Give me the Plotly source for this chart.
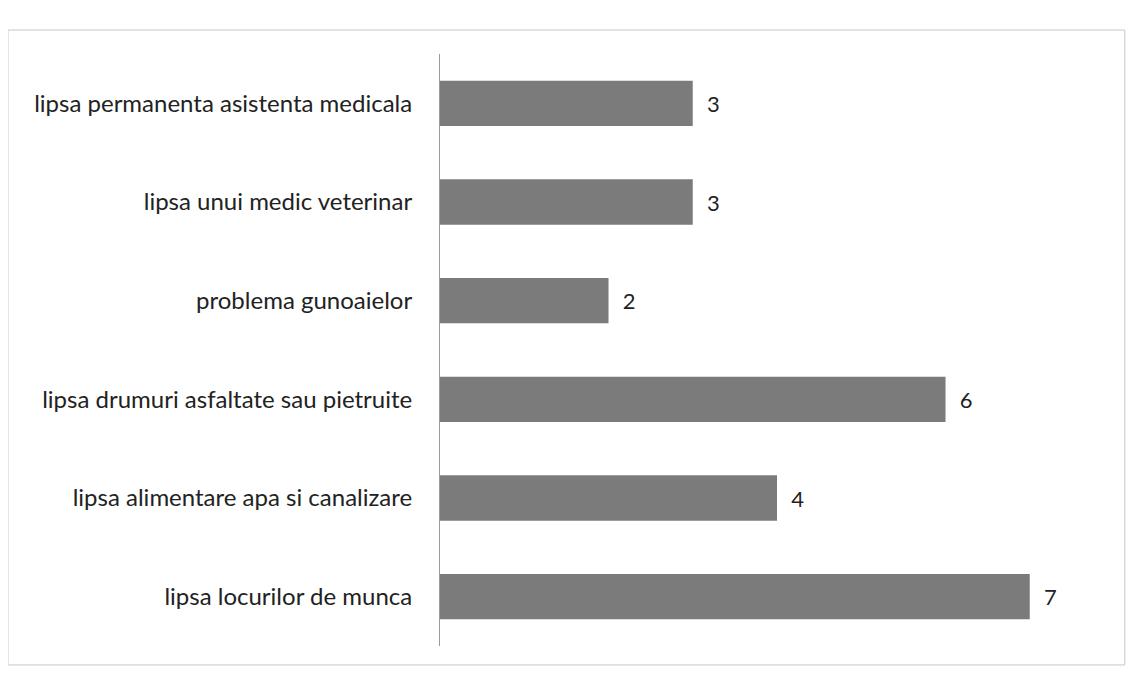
import plotly.graph_objects as go

categories = [
    "lipsa permanenta asistenta medicala",
    "lipsa unui medic veterinar",
    "problema gunoaielor",
    "lipsa drumuri asfaltate sau pietruite",
    "lipsa alimentare apa si canalizare",
    "lipsa locurilor de munca",
]
values = [3, 3, 2, 6, 4, 7]

FONT = "Lato"

fig = go.Figure(
    go.Bar(
        y=categories,
        x=values,
        orientation="h",
        marker=dict(color="#7b7b7b", line=dict(width=0)),
        texttemplate="  %{x}",
        textposition="outside",
        textfont=dict(size=22, color="#222222", family=FONT),
        cliponaxis=False,
    )
)

fig.update_layout(
    width=1134,
    height=677,
    paper_bgcolor="white",
    plot_bgcolor="white",
    margin=dict(l=432, r=28, t=46, b=39),
    bargap=0.54,
    showlegend=False,
    font=dict(family=FONT, size=24, color="#222222"),
    xaxis=dict(range=[0, 8], visible=False, showgrid=False, zeroline=False),
    yaxis=dict(
        autorange="reversed",
        showgrid=False,
        zeroline=False,
        showline=True,
        linecolor="#9a9a9a",
        linewidth=1,
        ticks="",
        ticklabelstandoff=22,
        tickfont=dict(size=24, family=FONT, color="#222222"),
    ),
    shapes=[
        dict(
            type="rect",
            xref="paper",
            yref="paper",
            x0=-0.641,
            x1=1.016,
            y0=-0.032,
            y1=1.0405,
            line=dict(color="#c8c8c8", width=1),
            fillcolor="rgba(0,0,0,0)",
            layer="below",
        )
    ],
)

fig.write_html("out.html")
